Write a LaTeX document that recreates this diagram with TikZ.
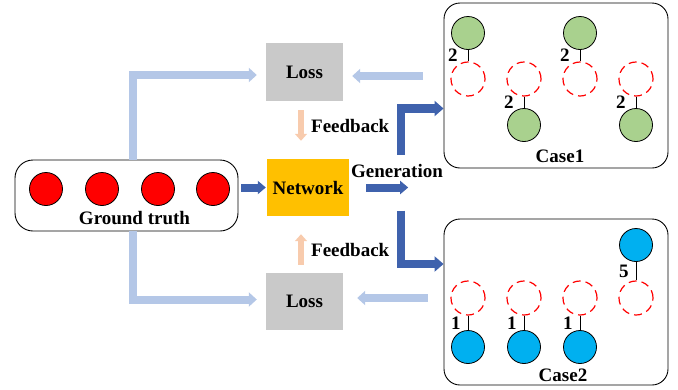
\documentclass[tikz,border=0pt]{standalone}
\usepackage{fontspec}
\setmainfont{Liberation Serif}
\usetikzlibrary{arrows.meta,calc,positioning}
\definecolor{gris}{HTML}{C9C9C9}
\definecolor{ambar}{HTML}{FFC000}
\definecolor{celeste}{HTML}{B4C7E7}
\definecolor{azulosc}{HTML}{3F62AD}
\definecolor{durazno}{HTML}{F8CBAD}
\definecolor{verde}{HTML}{A9D18E}
\definecolor{cian}{HTML}{00B0F0}
\tikzset{
  caja/.style={draw=black,line width=0.9pt,rounded corners=16pt,inner sep=0pt},
  bloque/.style={inner sep=0pt,font=\fontsize{19}{21}\selectfont\bfseries},
  rotulo/.style={inner sep=0pt,font=\fontsize{19}{21}\selectfont\bfseries},
  bola/.style={circle,draw=black,line width=0.8pt,minimum size=33pt,inner sep=0pt},
  hueco/.style={circle,draw=red,line width=1.2pt,dash pattern=on 8pt off 5pt,minimum size=34pt,inner sep=0pt},
  enlace/.style={draw=black,line width=0.9pt},
  peso/.style={inner sep=0pt,font=\fontsize{19}{21}\selectfont\bfseries},
  flechaclara/.style={draw=celeste,line width=8pt,-{Triangle[width=14pt,length=8pt]}},
  flechaosc/.style={draw=azulosc,line width=8.5pt,-{Triangle[width=15pt,length=9pt]}},
  flecharet/.style={draw=durazno,line width=6pt,-{Triangle[width=12pt,length=7pt]}},
}

\begin{document}
\begin{tikzpicture}[x=1pt,y=-1pt]
\useasboundingbox (0,0) rectangle (678,389);
% ground truth
\node[caja,rounded corners=18pt,minimum width=223pt,minimum height=71pt] (gt) at (126.5,195.5) {};
\foreach \i/\x in {1/46,2/102,3/158,4/213}
  \node[bola,fill=red] (gt\i) at (\x,189) {};
\node[rotulo] (gtlbl) at (134.5,218) {Ground truth};
% blocks
\node[bloque,fill=gris,minimum width=77pt,minimum height=58pt] (loss1) at (304.5,72) {Loss};
\node[bloque,fill=ambar,minimum width=82pt,minimum height=57pt] (net) at (308,187.5) {Network};
\node[bloque,fill=gris,minimum width=77pt,minimum height=57pt] (loss2) at (304.5,301.5) {Loss};
% cases
\node[caja,minimum width=224pt,minimum height=165pt] (case1) at (556,85.5) {};
\node[caja,minimum width=224pt,minimum height=166pt] (case2) at (556,302) {};
\node[rotulo] (c1lbl) at (560,156) {Case1};
\node[rotulo] (c2lbl) at (563,375) {Case2};
% case1 pairs
\node[bola,fill=verde] (a1) at (468,33) {};
\node[hueco] (ra1) at (468,79) {};
\node[hueco] (ra2) at (524,79) {};
\node[bola,fill=verde] (a2) at (524,125) {};
\node[bola,fill=verde] (a3) at (580,33) {};
\node[hueco] (ra3) at (580,79) {};
\node[hueco] (ra4) at (636,79) {};
\node[bola,fill=verde] (a4) at (636,125) {};
\draw[enlace] (a1) -- (ra1) node[peso,midway,left=10pt] {2};
\draw[enlace] (ra2) -- (a2) node[peso,midway,left=10pt] {2};
\draw[enlace] (a3) -- (ra3) node[peso,midway,left=10pt] {2};
\draw[enlace] (ra4) -- (a4) node[peso,midway,left=10pt] {2};
% case2 pairs
\node[hueco] (rb1) at (468,298) {};
\node[hueco] (rb2) at (524,298) {};
\node[hueco] (rb3) at (580,298) {};
\node[hueco] (rb4) at (636,298) {};
\node[bola,fill=cian] (b1) at (468,347) {};
\node[bola,fill=cian] (b2) at (524,347) {};
\node[bola,fill=cian] (b3) at (580,347) {};
\node[bola,fill=cian] (b4) at (636,245) {};
\draw[enlace] (rb1) -- (b1) node[peso,midway,left=7pt] {1};
\draw[enlace] (rb2) -- (b2) node[peso,midway,left=7pt] {1};
\draw[enlace] (rb3) -- (b3) node[peso,midway,left=7pt] {1};
\draw[enlace] (b4) -- (rb4) node[peso,midway,left=7pt] {5};
% light arrows to the losses
\draw[flechaclara] ($(gt.north)+(6,0)$) |- ($(loss1.west)+(-9,3)$);
\draw[flechaclara] ($(gt.south)+(6,0)$) |- ($(loss2.west)+(-9,-2)$);
\draw[flechaclara] ($(case1.west |- loss1.east)+(-21,4)$) -- ($(loss1.east)+(9,4)$);
\draw[flechaclara] ($(case2.west |- loss2.east)+(-16,-3.5)$) -- ($(loss2.east)+(14,-3.5)$);
% feedback
\draw[flecharet] ($(loss1.south)+(-3.5,9)$) -- ($(net.north)+(-7,-18)$);
\draw[flecharet] ($(loss2.north)+(-3.5,-8)$) -- ($(net.south)+(-7,18)$);
\node[rotulo,anchor=west] (fb1) at (311,126) {Feedback};
\node[rotulo,anchor=west] (fb2) at (311,250) {Feedback};
% network arrows
\draw[flechaosc,line width=8pt,-{Triangle[width=13pt,length=8pt]}] ($(gt.east |- net.west)+(3,0)$) -- ($(net.west)+(-1,0)$);
\draw[flechaosc,line width=8pt,-{Triangle[width=13pt,length=8pt]}] ($(net.east)+(17,0)$) -- ($(net.east)+(59,0)$);
\node[rotulo] (gen) at (397,171) {Generation};
\draw[flechaosc] ($(net.east)+(52,-33)$) |- ($(case1.west)+(0,23)$);
\draw[flechaosc] ($(net.east)+(52,23)$) |- ($(case2.west)+(0,-38)$);
\end{tikzpicture}
\end{document}
